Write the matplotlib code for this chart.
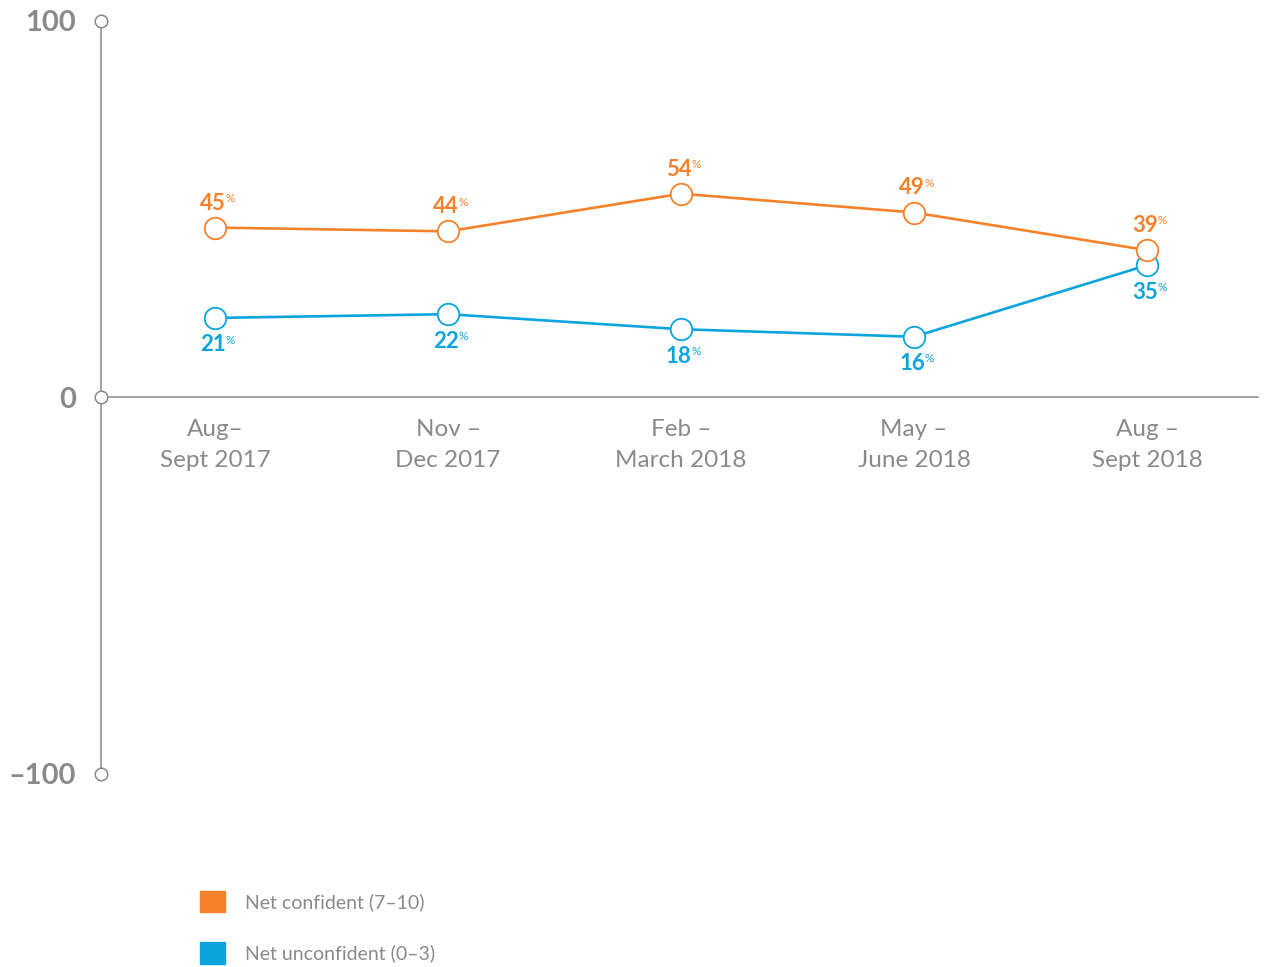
import matplotlib
matplotlib.use("Agg")
import matplotlib.pyplot as plt
from matplotlib.patches import Patch
import numpy as np

# ---- data ----
periods = ["Aug\u2013\nSept 2017", "Nov \u2013\nDec 2017", "Feb \u2013\nMarch 2018",
           "May \u2013\nJune 2018", "Aug \u2013\nSept 2018"]
confident = [45, 44, 54, 49, 39]
unconfident = [21, 22, 18, 16, 35]
y_ticks = [100, 0, -100]
y_tick_labels = ["100", "0", "\u2013100"]

ORANGE = "#F5822B"
BLUE = "#0CA4DD"
GREY = "#8a8a8a"
FONT = "Lato"

W, H = 1269, 967
# pixel -> data helpers (figure is one big axes)
def X(px):
    return (px - 215) / 233.0

def Y(py):
    return (397 - py) / 3.765

fig = plt.figure(figsize=(W / 100, H / 100), dpi=100)
ax = fig.add_axes([0, 0, 1, 1])
ax.set_xlim(X(0), X(W))
ax.set_ylim(Y(H), Y(0))
ax.axis("off")

x = np.arange(len(periods))

# axes lines
ax.plot([X(101), X(101)], [100, -100], color=GREY, lw=1.1, zorder=1)
ax.plot([X(101), X(1258)], [0, 0], color=GREY, lw=1.1, zorder=1)
ax.plot([X(101)] * 3, y_ticks, "o", ms=9, mfc="white", mec=GREY, mew=1.1, zorder=2)
for v, lab in zip(y_ticks, y_tick_labels):
    ax.annotate(lab, (X(76), v), xytext=(0, -2), textcoords="offset points",
                ha="right", va="center", fontsize=21,
                fontweight="bold", color=GREY, family=FONT)

# category labels
for xi, lab in zip(x, periods):
    ax.text(xi, Y(419), lab, ha="center", va="top", fontsize=17.5,
            color=GREY, family=FONT, linespacing=1.6)

# series
for vals, col, above in [(unconfident, BLUE, False), (confident, ORANGE, True)]:
    ax.plot(x, vals, color=col, lw=1.9, zorder=3)
    ax.plot(x, vals, "o", ms=15.5, mfc="white", mec=col, mew=1.3, zorder=4)
    dy = 13 if above else -24
    for xi, v in zip(x, vals):
        ax.annotate(str(v), (xi, v), xytext=(-1.5, dy), textcoords="offset points",
                    ha="center", va="baseline", fontsize=16, fontweight="bold",
                    color=col, family=FONT)
        ax.annotate("%", (xi, v), xytext=(7.5, dy + 5.5), textcoords="offset points",
                    ha="left", va="baseline", fontsize=8.5, color=col, family=FONT)

# legend
handles = [Patch(color=ORANGE, label="Net confident (7\u201310)"),
           Patch(color=BLUE, label="Net unconfident (0\u20133)")]
leg = fig.legend(handles=handles, loc="upper left",
                 bbox_to_anchor=(200 / W, 1 - 891 / H), frameon=False,
                 borderpad=0, borderaxespad=0, handlelength=1.3, handleheight=1.3,
                 handletextpad=1.0, labelspacing=1.55,
                 prop={"family": FONT, "size": 14})
for t in leg.get_texts():
    t.set_color(GREY)

fig.savefig("out.png", dpi=100)
